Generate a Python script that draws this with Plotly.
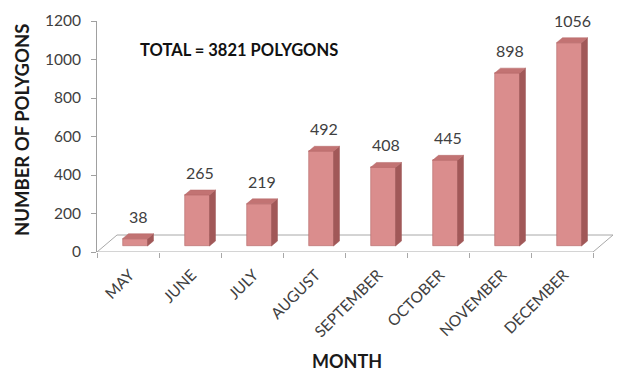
import plotly.graph_objects as go

# ---- data ----
months = ["MAY", "JUNE", "JULY", "AUGUST", "SEPTEMBER", "OCTOBER", "NOVEMBER", "DECEMBER"]
polygons = [38, 265, 219, 492, 408, 445, 898, 1056]
y_ticks = [0, 200, 400, 600, 800, 1000, 1200]
total_label = "TOTAL = 3821 POLYGONS"

# ---- pseudo-3D geometry (in axis units) ----
PX_X = 62.0            # pixels per category
PX_Y = 231.0 / 1200.0  # pixels per value unit
FLOOR_DX, FLOOR_DY = 20 / PX_X, 17 / PX_Y      # floor depth
BAR_OFF_X, BAR_OFF_Y = 7 / PX_X, 6 / PX_Y      # bar front offset into the floor
BAR_DX, BAR_DY = 6 / PX_X, 5 / PX_Y            # bar depth
BAR_W = 25 / PX_X

FRONT = "#DA8D8D"
TOP = "#C27373"
SIDE = "#A15858"
EDGE = "#B56868"

n = len(months)
xc = [i + BAR_OFF_X for i in range(n)]

fig = go.Figure()

# front faces
fig.add_trace(go.Bar(
    x=xc, y=polygons, base=[BAR_OFF_Y] * n, width=BAR_W,
    marker=dict(color=FRONT, line=dict(color=EDGE, width=0.6)),
    hoverinfo="skip", showlegend=False,
))

# side and top faces
sx, sy, tx, ty = [], [], [], []
for x, v in zip(xc, polygons):
    xl, xr = x - BAR_W / 2, x + BAR_W / 2
    b, t = BAR_OFF_Y, BAR_OFF_Y + v
    sx += [xr, xr + BAR_DX, xr + BAR_DX, xr, xr, None]
    sy += [b, b + BAR_DY, t + BAR_DY, t, b, None]
    tx += [xl, xr, xr + BAR_DX, xl + BAR_DX, xl, None]
    ty += [t, t, t + BAR_DY, t + BAR_DY, t, None]

fig.add_trace(go.Scatter(x=sx, y=sy, mode="lines", fill="toself", fillcolor=SIDE,
                         line=dict(color=SIDE, width=0.5), hoverinfo="skip", showlegend=False))
fig.add_trace(go.Scatter(x=tx, y=ty, mode="lines", fill="toself", fillcolor=TOP,
                         line=dict(color=EDGE, width=0.5), hoverinfo="skip", showlegend=False))

# floor
x0, x1 = -0.5, n - 0.5
floor_path = (f"M {x0},0 L {x1},0 L {x1 + FLOOR_DX},{FLOOR_DY} "
              f"L {x0 + FLOOR_DX},{FLOOR_DY} Z")
fig.add_shape(type="path", path=floor_path, xref="x", yref="y", layer="below",
              line=dict(color="#A8A8A8", width=1), fillcolor="white")

# value labels
for x, v in zip(xc, polygons):
    fig.add_annotation(x=x + BAR_DX / 2, y=BAR_OFF_Y + v + BAR_DY, text=str(v),
                       showarrow=False, yanchor="bottom", yshift=6,
                       font=dict(family="Lato", size=16, color="#404040"))

x_range = [-0.5, -0.5 + 518 / PX_X]

fig.update_layout(
    width=622, height=373,
    margin=dict(l=97, r=7, t=21, b=121),
    paper_bgcolor="white", plot_bgcolor="white",
    bargap=0,
    xaxis=dict(range=x_range, tickmode="array", tickvals=[i + 0.03 for i in range(n)],
               ticktext=months, tickangle=-45, ticks="", showline=False, showgrid=False,
               zeroline=False, tickfont=dict(family="Lato", size=15.5, color="#404040"),
               ticklabelstandoff=10),
    xaxis2=dict(range=x_range, overlaying="x", side="bottom", tickmode="array",
                tickvals=[i + 0.5 for i in range(-1, n)], ticks="outside", ticklen=5,
                tickcolor="#A8A8A8", showticklabels=False, showline=False,
                showgrid=False, zeroline=False),
    yaxis=dict(range=[0, 1200], tickvals=y_ticks, ticks="outside", ticklen=5,
               tickcolor="#A0A0A0", showline=True, linecolor="#A0A0A0", linewidth=1,
               showgrid=False, zeroline=False, ticklabelstandoff=7,
               tickfont=dict(family="Lato", size=15.5, color="#404040")),
)
# hidden helper trace to activate xaxis2
fig.add_trace(go.Scatter(x=[x_range[0]], y=[0], xaxis="x2", mode="markers",
                         marker=dict(opacity=0), hoverinfo="skip", showlegend=False))

fig.add_annotation(xref="paper", yref="paper", x=(22 - 97) / 518, y=(252 - 130) / 231,
                   xanchor="center", yanchor="middle",
                   text="<b>NUMBER OF POLYGONS</b>", textangle=-90, showarrow=False,
                   font=dict(family="Lato", size=18.5, color="#1a1a1a"))
fig.add_annotation(xref="paper", yref="paper", x=(347 - 97) / 518, y=(252 - 361) / 231,
                   xanchor="center", yanchor="middle",
                   text="<b>MONTH</b>", showarrow=False,
                   font=dict(family="Lato", size=18, color="#1a1a1a"))
fig.add_annotation(xref="paper", yref="paper", x=(138 - 97) / 518, y=(252 - 50) / 231,
                   xanchor="left", yanchor="middle",
                   text=f"<b>{total_label}</b>", showarrow=False,
                   font=dict(family="Lato", size=16.5, color="#111111"))

fig.write_html("out.html")
